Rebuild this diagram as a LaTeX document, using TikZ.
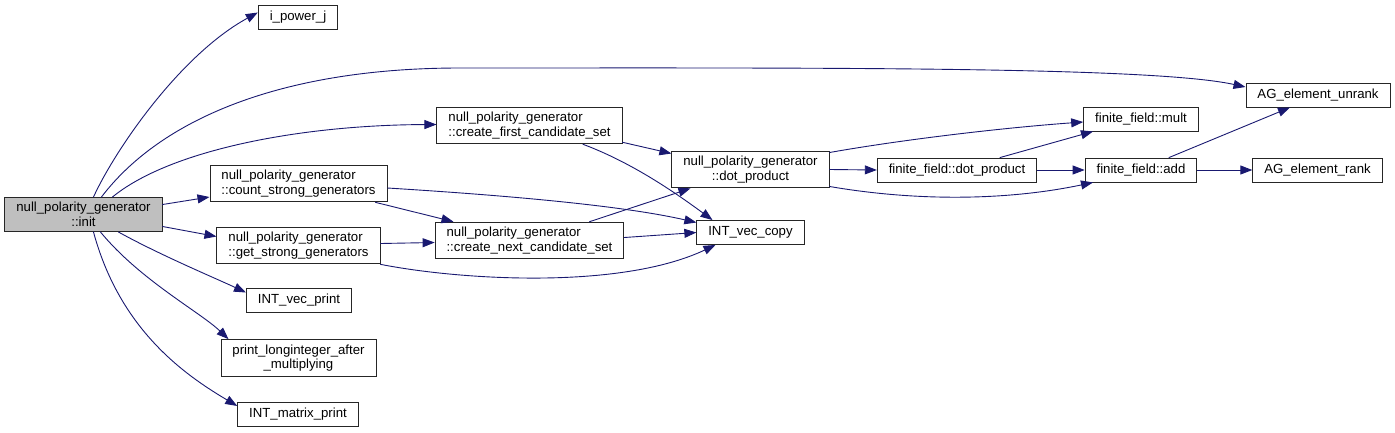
\documentclass[tikz,border=0pt]{standalone}
\usepackage{fontspec}
\setmainfont{Liberation Sans}
\usetikzlibrary{arrows.meta}

\definecolor{edgeblue}{RGB}{25,25,112}
\definecolor{rootgray}{RGB}{191,191,191}

\tikzset{
  func/.style={draw=black!85, line width=0.9pt, fill=white, inner xsep=11.5pt,
    inner ysep=5pt, minimum height=24pt, align=center,
    font=\fontsize{13.2}{14.5}\selectfont},
  call/.style={draw=edgeblue, line width=0.9pt,
    -{Triangle[length=12pt,width=9pt]}, line cap=round, line join=round},
}

\begin{document}
\begin{tikzpicture}[x=1pt,y=-1pt]
  \useasboundingbox (0,0) rectangle (1395,432);
  % functions
  \node[func,fill=rootgray] (init) at (83.5,214.5) {null\_polarity\_generator\\::init};
  \node[func] (ipj) at (298,17.5) {i\_power\_j};
  \node[func] (unrank) at (1318,95) {AG\_element\_unrank};
  \node[func,align=left] (first) at (529.5,125.5) {null\_polarity\_generator\\::create\_first\_candidate\_set};
  \node[func,align=left] (count) at (298.5,183.5) {null\_polarity\_generator\\::count\_strong\_generators};
  \node[func,align=left] (get) at (298.5,245.5) {null\_polarity\_generator\\::get\_strong\_generators};
  \node[func,align=left] (next) at (529.5,240.5) {null\_polarity\_generator\\::create\_next\_candidate\_set};
  \node[func] (dot) at (750.5,169.5) {null\_polarity\_generator\\::dot\_product};
  \node[func] (vcopy) at (750.5,232.5) {INT\_vec\_copy};
  \node[func] (ffdot) at (957,170) {finite\_field::dot\_product};
  \node[func] (mult) at (1141,119) {finite\_field::mult};
  \node[func] (add) at (1141,170) {finite\_field::add};
  \node[func] (rank) at (1317.5,170) {AG\_element\_rank};
  \node[func] (vprint) at (299,300.5) {INT\_vec\_print};
  \node[func] (plong) at (298.5,358) {print\_longinteger\_after\\\_multiplying};
  \node[func] (matrix) at (298,414) {INT\_matrix\_print};

  % calls from init
  \draw[call] ([xshift=10pt]init.north) .. controls (115,150) and (180,55) .. ([yshift=5pt]ipj.west);
  \draw[call] ([xshift=18pt]init.north) .. controls (160,120) and (280,68) .. (460,68)
    .. controls (800,68) and (1150,66) .. ([yshift=8pt]unrank.west);
  \draw[call] ([xshift=29pt]init.north) .. controls (170,150) and (300,125) .. ([yshift=1pt]first.west);
  \draw[call] ([yshift=10pt]init.east) -- ([yshift=-13.5pt]count.west);
  \draw[call] ([yshift=-12pt]init.east) -- ([yshift=9pt]get.west);
  \draw[call] ([xshift=35pt]init.south) .. controls (160,255) and (215,278) .. ([yshift=8pt]vprint.west);
  \draw[call] ([xshift=17pt]init.south) .. controls (140,280) and (200,312) .. ([xshift=-70pt]plong.north);
  \draw[call] ([xshift=10pt]init.south) .. controls (120,330) and (185,375) .. ([yshift=8pt]matrix.west);

  % second level
  \draw[call] ([yshift=2pt]first.south east) -- ([yshift=16pt]dot.west);
  \draw[call] ([xshift=53.5pt]first.south) .. controls (625,160) and (665,185) .. ([xshift=-38pt]vcopy.north);
  \draw[call] ([yshift=-4.5pt]count.east) .. controls (500,195) and (620,205) .. ([yshift=10pt]vcopy.west);
  \draw[call] ([xshift=77pt]count.south) -- ([xshift=-76pt]next.north);
  \draw[call] ([yshift=2pt]get.east) -- ([yshift=-2pt]next.west);
  \draw[call] (get.south east) .. controls (460,280) and (620,290) .. ([xshift=-35pt]vcopy.south);
  \draw[call] ([xshift=60pt]next.north) -- ([xshift=-60pt]dot.south);
  \draw[call] ([yshift=3pt]next.east) -- (vcopy.west);

  % finite field calls
  \draw[call] (dot.east) -- (ffdot.west);
  \draw[call] ([yshift=17pt]dot.east) .. controls (900,140) and (1000,128) .. ([yshift=-3pt]mult.west);
  \draw[call] ([yshift=-17pt]dot.east) .. controls (920,202) and (1010,200) .. ([xshift=-48pt]add.south);
  \draw[call] ([xshift=43pt]ffdot.north) -- ([xshift=-48pt]mult.south);
  \draw[call] (ffdot.east) -- (add.west);
  \draw[call] ([xshift=28pt]add.north) -- ([xshift=-28pt]unrank.south);
  \draw[call] (add.east) -- (rank.west);
\end{tikzpicture}
\end{document}
